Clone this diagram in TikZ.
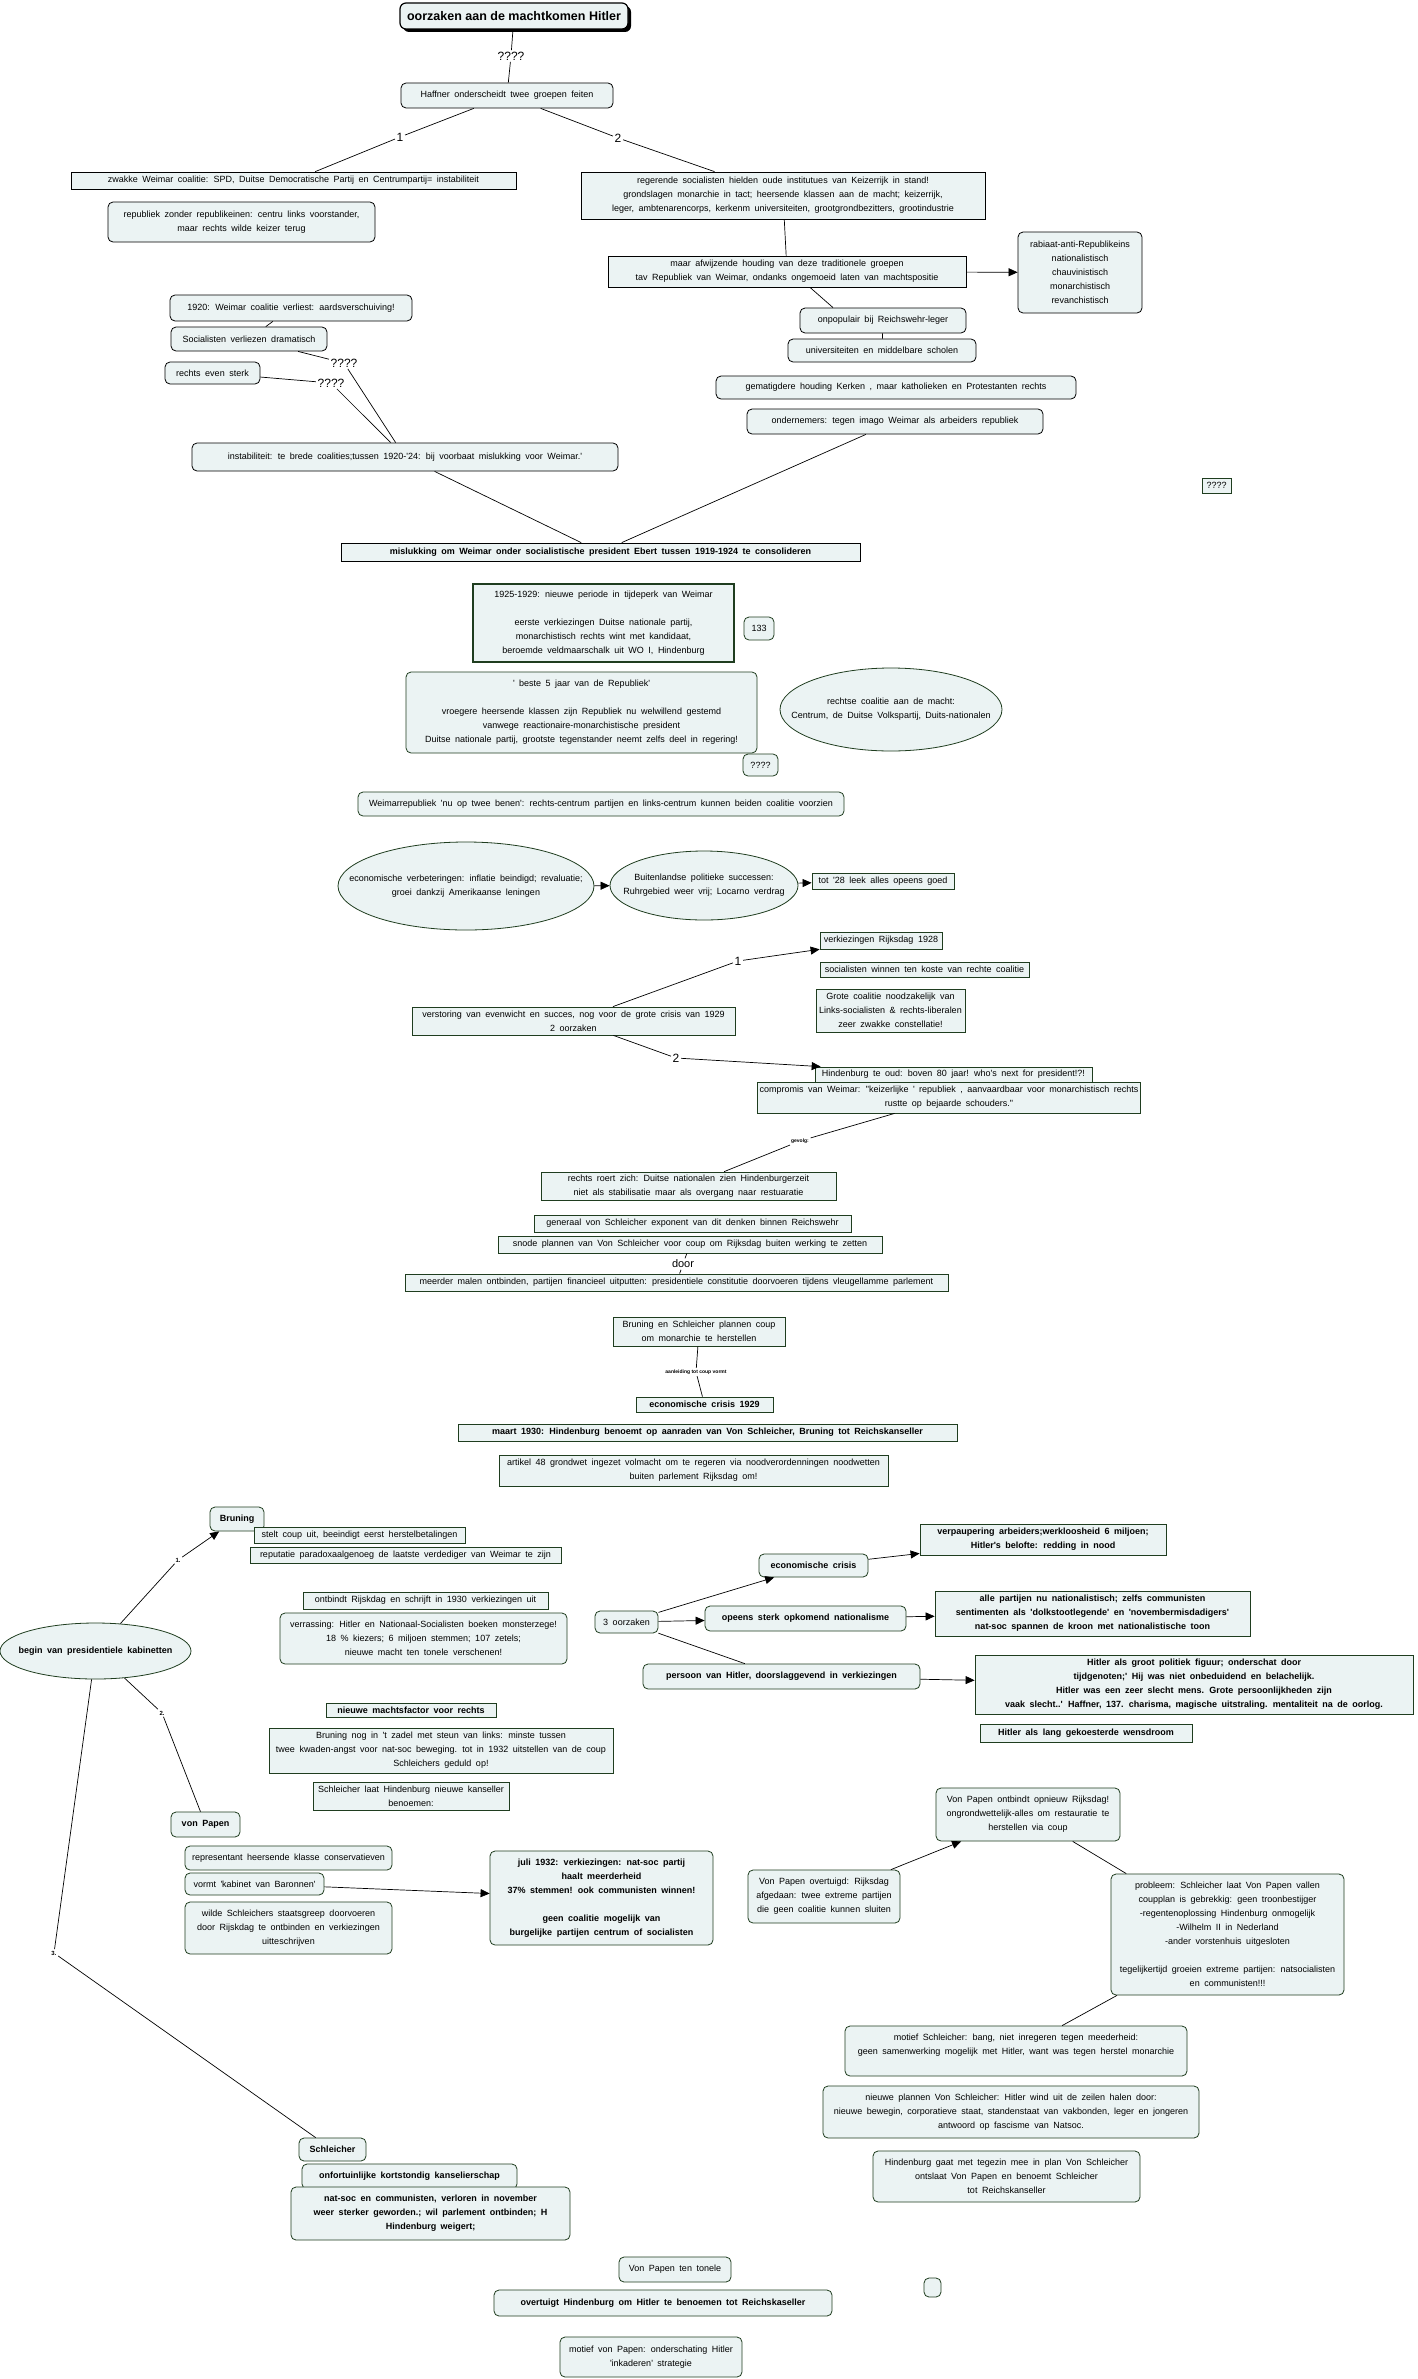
\documentclass[tikz,border=0pt]{standalone}
\usepackage{fontspec}
\setmainfont{Liberation Sans}[Ligatures=TeXOff]
\newfontfamily\cmtitlefont{Liberation Sans}[Ligatures=TeXOff]
\usetikzlibrary{shapes.geometric,arrows.meta,shadows}
\definecolor{cmfill}{HTML}{EBF3F3}
\definecolor{cmgreen}{HTML}{1F3D1F}
\newcommand{\cmfont}{\fontsize{9}{14}\selectfont\spaceskip=0.5em plus 0.1em minus 0.1em\relax}
% box from x1..x2, y1..y2 (pixels of the map)
\newcommand{\cmnode}[7]{%
  \pgfmathsetmacro{\cmcx}{(#3+#4)/2}%
  \pgfmathsetmacro{\cmcy}{(#5+#6)/2}%
  \pgfmathsetmacro{\cmw}{#4-#3}%
  \pgfmathsetmacro{\cmh}{#6-#5}%
  \node[#2, minimum width=\cmw pt, minimum height=\cmh pt] (#1) at (\cmcx,\cmcy) {#7};}
% ellipse with its text on top
\newcommand{\cmell}[7]{%
  \pgfmathsetmacro{\cmcx}{(#3+#4)/2}%
  \pgfmathsetmacro{\cmcy}{(#5+#6)/2}%
  \pgfmathsetmacro{\cmw}{#4-#3}%
  \pgfmathsetmacro{\cmh}{#6-#5}%
  \node[#2, minimum width=\cmw pt, minimum height=\cmh pt] (#1) at (\cmcx,\cmcy) {};
  \node[ctxt] (#1-t) at (#1) {#7};}

\begin{document}
\begin{tikzpicture}[x=1pt, y=-1pt,
  cbox/.style={draw=cmgreen, fill=cmfill, line width=0.8pt, rounded corners=5pt,
               align=center, inner sep=2pt, font=\cmfont},
  rbox/.style={cbox, sharp corners},
  blk/.style={draw=black},
  bld/.style={font=\cmfont\bfseries},
  tbox/.style={cbox, blk, line width=1.2pt, rounded corners=6pt,
               drop shadow={shadow xshift=3pt, shadow yshift=-3pt, fill=black, opacity=1},
               font=\cmtitlefont\fontsize{12.5}{14}\selectfont\bfseries},
  cell/.style={ellipse, draw=cmgreen, fill=cmfill, line width=0.8pt, inner sep=0pt},
  ctxt/.style={align=center, inner sep=0pt, font=\cmfont},
  lbl/.style={font=\cmtitlefont\fontsize{12}{12}\selectfont, inner sep=1.5pt},
  tlbl/.style={font=\cmtitlefont\fontsize{5}{5}\selectfont\bfseries, inner sep=1.5pt},
  cl/.style={line width=0.7pt},
  ar/.style={cl, -{Triangle[length=9pt,width=8pt]}}]
\fill[white] (0,0) rectangle (1417,2379);
\useasboundingbox (0,0) rectangle (1417,2379);
% top
\cmnode{title}{tbox}{400}{628}{3}{29}{oorzaken aan de machtkomen Hitler}
\node[lbl] (q0) at (511,56) {????};
\cmnode{haffner}{cbox,blk}{401}{613}{83}{108}{Haffner onderscheidt twee groepen feiten}
\node[lbl] (g1) at (400,137) {1};
\node[lbl] (g2) at (618,138) {2};
\cmnode{zwakke}{rbox,blk}{71}{516}{172}{189}{zwakke Weimar coalitie: SPD, Duitse Democratische Partij en Centrumpartij= instabiliteit}
\cmnode{repub}{cbox,blk}{108}{375}{202}{242}{republiek zonder republikeinen: centru links voorstander,\\ maar rechts wilde keizer terug}
\cmnode{y1920}{cbox,blk}{170}{412}{295}{321}{1920: Weimar coalitie verliest: aardsverschuiving!}
\cmnode{socverl}{cbox,blk}{171}{327}{327}{351}{Socialisten verliezen dramatisch}
\cmnode{rsterk}{cbox,blk}{165}{260}{362}{384}{rechts even sterk}
\node[lbl] (q1) at (344,363) {????};
\node[lbl] (q2) at (331,383) {????};
\cmnode{instab}{cbox,blk}{192}{618}{443}{471}{instabiliteit: te brede coalities;tussen 1920-'24: bij voorbaat mislukking voor Weimar.'}
\cmnode{regerend}{rbox,blk}{581}{985}{172}{219}{regerende socialisten hielden oude institutues van Keizerrijk in stand!\\ grondslagen monarchie in tact; heersende klassen aan de macht; keizerrijk,\\ leger, ambtenarencorps, kerkenm universiteiten, grootgrondbezitters, grootindustrie}
\cmnode{afwijz}{rbox,blk}{608}{966}{256}{287}{maar afwijzende houding van deze traditionele groepen\\ tav Republiek van Weimar, ondanks ongemoeid laten van machtspositie}
\cmnode{rabiaat}{cbox,blk}{1018}{1142}{232}{313}{rabiaat-anti-Republikeins\\ nationalistisch\\ chauvinistisch\\ monarchistisch\\ revanchistisch}
\cmnode{onpop}{cbox,blk}{800}{966}{308}{333}{onpopulair bij Reichswehr-leger}
\cmnode{univ}{cbox,blk}{788}{976}{339}{362}{universiteiten en middelbare scholen}
\cmnode{gematig}{cbox,blk}{716}{1076}{376}{399}{gematigdere houding Kerken , maar katholieken en Protestanten rechts}
\cmnode{ondern}{cbox,blk}{747}{1043}{409}{434}{ondernemers: tegen imago Weimar als arbeiders republiek}
\cmnode{qbox}{rbox}{1202}{1231}{478}{493}{????}
\cmnode{misluk}{rbox,blk,bld}{341}{860}{543}{561}{mislukking om Weimar onder socialistische president Ebert tussen 1919-1924 te consolideren}
\draw[cl] (title) -- (q0);
\draw[cl] (q0) -- (haffner);
\draw[cl] (haffner) -- (g1);
\draw[cl] (g1) -- (zwakke);
\draw[cl] (haffner) -- (g2);
\draw[cl] (g2) -- (regerend);
\draw[cl] (y1920) -- (socverl);
\draw[cl] (socverl) -- (q1);
\draw[cl] (rsterk) -- (q2);
\draw[cl] (q1) -- (instab);
\draw[cl] (q2) -- (instab);
\draw[cl] (instab) -- (misluk);
\draw[cl] (ondern) -- (misluk);
\draw[cl] (regerend) -- (afwijz);
\draw[ar] (afwijz) -- (rabiaat);
\draw[cl] ([xshift=23pt]afwijz.south) -- ([xshift=-50pt]onpop.north);
\draw[cl] (onpop) -- (univ);
% 1925-1929
\cmnode{y1925}{rbox,line width=1.6pt}{473}{734}{584}{662}{1925-1929: nieuwe periode in tijdeperk van Weimar\\[14pt] eerste verkiezingen Duitse nationale partij,\\ monarchistisch rechts wint met kandidaat,\\ beroemde veldmaarschalk uit WO I, Hindenburg}
\cmnode{n133}{cbox}{744}{774}{617}{640}{133}
\cmnode{beste}{cbox}{406}{757}{672}{753}{' beste 5 jaar van de Republiek'\\[14pt] vroegere heersende klassen zijn Republiek nu welwillend gestemd\\ vanwege reactionaire-monarchistische president\\ Duitse nationale partij, grootste tegenstander neemt zelfs deel in regering!}
\cmell{rechtse}{cell}{780}{1002}{668}{751}{rechtse coalitie aan de macht:\\ Centrum, de Duitse Volkspartij, Duits-nationalen}
\cmnode{qq}{cbox}{743}{778}{754}{776}{????}
\cmnode{benen}{cbox}{358}{844}{792}{816}{Weimarrepubliek 'nu op twee benen': rechts-centrum partijen en links-centrum kunnen beiden coalitie voorzien}
\cmell{econ}{cell}{338}{594}{842}{930}{economische verbeteringen: inflatie beindigd; revaluatie;\\ groei dankzij Amerikaanse leningen}
\cmell{buiten}{cell}{610}{798}{851}{920}{Buitenlandse politieke successen:\\ Ruhrgebied weer vrij; Locarno verdrag}
\cmnode{tot28}{rbox}{812}{954}{873}{889}{tot '28 leek alles opeens goed}
\cmnode{verk28}{rbox}{820}{942}{932}{949}{verkiezingen Rijksdag 1928}
\cmnode{socwin}{rbox}{820}{1029}{962}{977}{socialisten winnen ten koste van rechte coalitie}
\cmnode{grote}{rbox}{816}{965}{989}{1032}{Grote coalitie noodzakelijk van\\ Links-socialisten \& rechts-liberalen\\ zeer zwakke constellatie!}
\cmnode{verstor}{rbox}{412}{735}{1007}{1035}{verstoring van evenwicht en succes, nog voor de grote crisis van 1929\\ 2 oorzaken}
\node[lbl] (h1) at (738,961) {1};
\node[lbl] (h2) at (676,1058) {2};
\cmnode{hindoud}{rbox}{815}{1092}{1067}{1082}{Hindenburg te oud: boven 80 jaar! who's next for president!?!}
\cmnode{comprom}{rbox}{766}{1132}{1082}{1113}{compromis van Weimar: "keizerlijke ' republiek , aanvaardbaar voor monarchistisch rechts\\ rustte op bejaarde schouders."}
\node[tlbl] (gevolg) at (800,1141) {gevolg:};
\cmnode{roert}{rbox}{541}{836}{1172}{1200}{rechts roert zich: Duitse nationalen zien Hindenburgerzeit\\ niet als stabilisatie maar als overgang naar restuaratie}
\cmnode{generaal}{rbox}{534}{851}{1215}{1232}{generaal von Schleicher exponent van dit denken binnen Reichswehr}
\cmnode{snode}{rbox}{498}{882}{1236}{1253}{snode plannen van Von Schleicher voor coup om Rijksdag buiten werking te zetten}
\node[lbl, font=\cmtitlefont\fontsize{11}{11}\selectfont] (door) at (683,1264) {door};
\cmnode{meerder}{rbox}{405}{948}{1274}{1291}{meerder malen ontbinden, partijen financieel uitputten: presidentiele constitutie doorvoeren tijdens vleugellamme parlement}
\cmnode{brsch}{rbox}{613}{785}{1317}{1346}{Bruning en Schleicher plannen coup\\ om monarchie te herstellen}
\node[tlbl] (aanl) at (696,1372) {aanleiding tot coup vormt};
\cmnode{crisis}{rbox,bld}{636}{773}{1397}{1412}{economische crisis 1929}
\cmnode{maart}{rbox,bld}{458}{957}{1424}{1441}{maart 1930: Hindenburg benoemt op aanraden van Von Schleicher, Bruning tot Reichskanseller}
\cmnode{art48}{rbox}{499}{888}{1455}{1486}{artikel 48 grondwet ingezet volmacht om te regeren via noodverordenningen noodwetten\\ buiten parlement Rijksdag om!}
\draw[ar] (econ) -- (buiten);
\draw[ar] (buiten) -- (tot28);
\draw[cl] (verstor) -- (h1);
\draw[ar] (h1) -- (verk28);
\draw[cl] (verstor) -- (h2);
\draw[ar] (h2) -- (hindoud);
\draw[cl] (comprom) -- (gevolg);
\draw[cl] (gevolg) -- (roert);
\draw[cl] (snode) -- (door);
\draw[cl] (door) -- (meerder);
\draw[cl] (brsch) -- (aanl);
\draw[cl] (aanl) -- (crisis);
% presidentiele kabinetten
\cmell{begin}{cell}{0}{191}{1623}{1679}{\bfseries begin van presidentiele kabinetten}
\node[tlbl, font=\cmtitlefont\fontsize{6}{6}\selectfont\bfseries] (k1) at (178,1560) {1.};
\node[tlbl, font=\cmtitlefont\fontsize{6}{6}\selectfont\bfseries] (k2) at (162,1713) {2.};
\node[tlbl, font=\cmtitlefont\fontsize{6}{6}\selectfont\bfseries] (k3) at (54,1953) {3.};
\cmnode{bruning}{cbox,bld}{210}{264}{1507}{1531}{Bruning}
\cmnode{steltuit}{rbox}{254}{465}{1527}{1543}{stelt coup uit, beeindigt eerst herstelbetalingen}
\cmnode{reputat}{rbox}{250}{561}{1547}{1563}{reputatie paradoxaalgenoeg de laatste verdediger van Weimar te zijn}
\cmnode{ontbrd}{rbox}{303}{548}{1592}{1609}{ontbindt Rijskdag en schrijft in 1930 verkiezingen uit}
\cmnode{verras}{cbox}{280}{567}{1613}{1664}{verrassing: Hitler en Nationaal-Socialisten boeken monsterzege!\\ 18 \% kiezers; 6 miljoen stemmen; 107 zetels;\\ nieuwe macht ten tonele verschenen!}
\cmnode{machtsf}{rbox,bld}{326}{496}{1703}{1717}{nieuwe machtsfactor voor rechts}
\cmnode{zadel}{rbox}{269}{613}{1728}{1773}{Bruning nog in 't zadel met steun van links: minste tussen\\ twee kwaden-angst voor nat-soc beweging. tot in 1932 uitstellen van de coup\\ Schleichers geduld op!}
\cmnode{schlaat}{rbox}{313}{509}{1782}{1810}{Schleicher laat Hindenburg nieuwe kanseller\\ benoemen:}
\cmnode{papen}{cbox,bld}{171}{240}{1812}{1837}{von Papen}
\cmnode{repres}{cbox}{185}{392}{1846}{1870}{representant heersende klasse conservatieven}
\cmnode{baron}{cbox}{185}{324}{1873}{1895}{vormt 'kabinet van Baronnen'}
\cmnode{wilde}{cbox}{185}{392}{1902}{1954}{wilde Schleichers staatsgreep doorvoeren\\ door Rijskdag te ontbinden en verkiezingen\\ uitteschrijven}
\cmnode{juli32}{cbox,bld}{490}{713}{1851}{1945}{juli 1932: verkiezingen: nat-soc partij\\ haalt meerderheid\\ 37\% stemmen! ook communisten winnen!\\[14pt] geen coalitie mogelijk van\\ burgelijke partijen centrum of socialisten}
\cmnode{oorz3}{cbox}{595}{658}{1611}{1633}{3 oorzaken}
\cmnode{econcr}{cbox,bld}{759}{868}{1554}{1577}{economische crisis}
\cmnode{verpaup}{rbox,bld}{920}{1166}{1524}{1555}{verpaupering arbeiders;werkloosheid 6 miljoen;\\ Hitler's belofte: redding in nood}
\cmnode{opeens}{cbox,bld}{705}{906}{1606}{1631}{opeens sterk opkomend nationalisme}
\cmnode{alle}{rbox,bld}{935}{1250}{1591}{1636}{alle partijen nu nationalistisch; zelfs communisten\\ sentimenten als 'dolkstootlegende' en 'novembermisdadigers'\\ nat-soc spannen de kroon met nationalistische toon}
\cmnode{persoon}{cbox,bld}{643}{920}{1664}{1689}{persoon van Hitler, doorslaggevend in verkiezingen}
\cmnode{groot}{rbox,bld}{975}{1413}{1655}{1714}{Hitler als groot politiek figuur; onderschat door\\ tijdgenoten;' Hij was niet onbeduidend en belachelijk.\\ Hitler was een zeer slecht mens. Grote persoonlijkheden zijn\\ vaak slecht..' Haffner, 137. charisma, magische uitstraling. mentaliteit na de oorlog.}
\cmnode{wens}{rbox,bld}{980}{1192}{1724}{1742}{Hitler als lang gekoesterde wensdroom}
\cmnode{papontb}{cbox}{936}{1120}{1788}{1841}{Von Papen ontbindt opnieuw Rijksdag!\\ ongrondwettelijk-alles om restauratie te\\ herstellen via coup}
\cmnode{papovt}{cbox}{748}{900}{1870}{1923}{Von Papen overtuigd: Rijksdag\\ afgedaan: twee extreme partijen\\ die geen coalitie kunnen sluiten}
\cmnode{probleem}{cbox}{1111}{1344}{1874}{1995}{probleem: Schleicher laat Von Papen vallen\\ coupplan is gebrekkig: geen troonbestijger\\ -regentenoplossing Hindenburg onmogelijk\\ -Wilhelm II in Nederland\\ -ander vorstenhuis uitgesloten\\[14pt] tegelijkertijd groeien extreme partijen: natsocialisten\\ en communisten!!!}
\cmnode{motsch}{cbox}{845}{1187}{2026}{2076}{motief Schleicher: bang, niet inregeren tegen meederheid:\\ geen samenwerking mogelijk met Hitler, want was tegen herstel monarchie\\ \mbox{}}
\cmnode{plannen}{cbox}{823}{1199}{2086}{2138}{nieuwe plannen Von Schleicher: Hitler wind uit de zeilen halen door:\\ nieuwe bewegin, corporatieve staat, standenstaat van vakbonden, leger en jongeren\\ antwoord op fascisme van Natsoc.}
\cmnode{hindmee}{cbox}{873}{1140}{2151}{2202}{Hindenburg gaat met tegezin mee in plan Von Schleicher\\ ontslaat Von Papen en benoemt Schleicher\\ tot Reichskanseller}
\cmnode{schleich}{cbox,bld}{299}{366}{2138}{2161}{Schleicher}
\cmnode{onfort}{cbox,bld}{302}{517}{2164}{2189}{onfortuinlijke kortstondig kanselierschap}
\cmnode{natsoc}{cbox,bld}{291}{570}{2187}{2240}{nat-soc en communisten, verloren in november\\ weer sterker geworden.; wil parlement ontbinden; H\\ Hindenburg weigert;}
\cmnode{tonele}{cbox}{619}{731}{2257}{2282}{Von Papen ten tonele}
\cmnode{overtgt}{cbox,bld}{494}{832}{2290}{2316}{overtuigt Hindenburg om Hitler te benoemen tot Reichskaseller}
\cmnode{motpap}{cbox}{560}{742}{2337}{2377}{motief von Papen: onderschating Hitler\\ 'inkaderen' strategie}
\cmnode{leeg}{cbox}{924}{941}{2278}{2297}{}
\draw[cl] (begin) -- (k1);
\draw[ar] (k1) -- (bruning);
\draw[cl] (begin) -- (k2);
\draw[cl] (k2) -- (papen);
\draw[cl] (begin) -- (k3);
\draw[cl] (k3) -- (schleich);
\draw[ar] (baron) -- (juli32);
\draw[ar] (oorz3) -- (econcr);
\draw[ar] (econcr) -- (verpaup);
\draw[ar] (oorz3) -- (opeens);
\draw[ar] (opeens) -- (alle);
\draw[cl] (oorz3) -- (persoon);
\draw[ar] (persoon) -- (groot);
\draw[ar] (papovt) -- (papontb);
\draw[cl] (papontb) -- (probleem);
\draw[cl] (probleem) -- (motsch);
\end{tikzpicture}
\end{document}
